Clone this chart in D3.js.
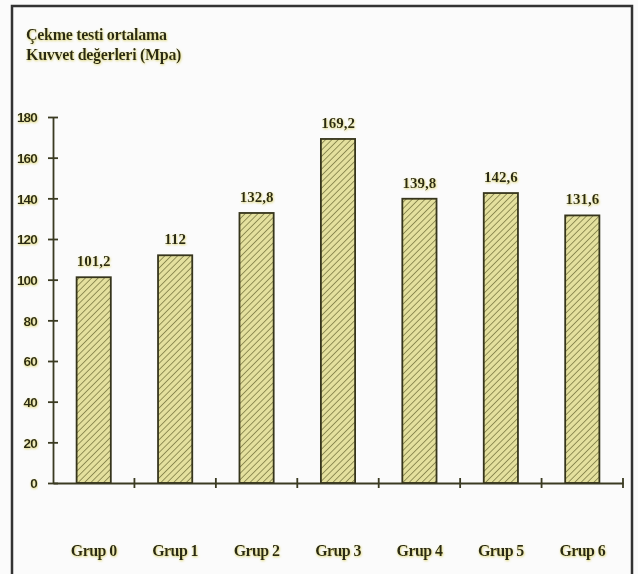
<!DOCTYPE html>
<html><head><meta charset="utf-8">
<script src="https://cdn.jsdelivr.net/npm/d3@7"></script>
<style>body{margin:0;background:#fbfbfb;}svg{display:block;}</style>
</head><body>
<svg id="c" width="638" height="574"></svg>
<script>
const categories = ["Grup 0","Grup 1","Grup 2","Grup 3","Grup 4","Grup 5","Grup 6"];
const values = [101.2,112,132.8,169.2,139.8,142.6,131.6];
const valueLabels = ["101,2","112","132,8","169,2","139,8","142,6","131,6"];
const yTicks = [0,20,40,60,80,100,120,140,160,180];
const titleLines = ["Çekme testi ortalama","Kuvvet değerleri (Mpa)"];

const svg = d3.select("#c");
const defs = svg.append("defs");
const pat = defs.append("pattern").attr("id","hatch").attr("patternUnits","userSpaceOnUse")
  .attr("width",4.5).attr("height",4.5).attr("patternTransform","rotate(45)");
pat.append("rect").attr("width",4.5).attr("height",4.5).attr("fill","#e4e09e");
pat.append("line").attr("x1",0).attr("y1",0).attr("x2",0).attr("y2",4.5)
  .attr("stroke","#8a8850").attr("stroke-width",1.8);
const f = defs.append("filter").attr("id","glow").attr("x","-10%").attr("y","-20%").attr("width","120%").attr("height","140%");
f.append("feDropShadow").attr("dx",0.5).attr("dy",1).attr("stdDeviation",0.8).attr("flood-color","#d8d060").attr("flood-opacity",0.9);

// frame
svg.append("rect").attr("x",12).attr("y",6).attr("width",620).attr("height",600)
  .attr("fill","none").attr("stroke","#333").attr("stroke-width",2.5);

const x = d3.scaleBand().domain(categories).range([53,623]).paddingInner(0.58).paddingOuter(0.29);
const y = d3.scaleLinear().domain([0,180]).range([483,117]);

// title
svg.append("g").selectAll("text").data(titleLines).join("text")
  .attr("x",26).attr("y",(d,i)=>40+i*20)
  .attr("font-family","Liberation Serif").attr("font-weight","bold").attr("font-size",16)
  .attr("letter-spacing","-0.3")
  .attr("fill","#2b2a14").attr("filter","url(#glow)").text(d=>d);

// bars
svg.append("g").selectAll("rect").data(values).join("rect")
  .attr("x",(d,i)=>x(categories[i])).attr("width",x.bandwidth())
  .attr("y",d=>y(d)).attr("height",d=>y(0)-y(d))
  .attr("fill","url(#hatch)").attr("stroke","#36351c").attr("stroke-width",1.8);

// value labels
svg.append("g").selectAll("text").data(values).join("text")
  .attr("x",(d,i)=>x(categories[i])+x.bandwidth()/2).attr("y",d=>y(d)-11)
  .attr("text-anchor","middle").attr("font-family","Liberation Serif").attr("font-weight","bold")
  .attr("font-size",15).attr("fill","#2b2a14").attr("filter","url(#glow)")
  .text((d,i)=>valueLabels[i]);

// y axis
const yAxis = d3.axisLeft(y).tickValues(yTicks).tickSize(0).tickPadding(16);
const gy = svg.append("g").attr("transform","translate(53,0)").call(yAxis);
gy.select(".domain").attr("stroke","#3a3a22").attr("stroke-width",1.8);
gy.selectAll(".tick line").attr("x1",-5).attr("x2",5).attr("stroke","#3a3a22").attr("stroke-width",1.8);
gy.selectAll(".tick text").attr("font-family","Liberation Sans").attr("font-weight","bold")
  .attr("font-size",13.5).attr("letter-spacing","-0.8").attr("fill","#2b2a14").attr("filter","url(#glow)").attr("dy","0.36em");

// x axis
const step = x.step();
const xAxis = d3.axisBottom(x).tickSize(0).tickPadding(62);
const gx = svg.append("g").attr("transform",`translate(0,${y(0)})`).call(xAxis);
gx.select(".domain").attr("stroke","#3a3a22").attr("stroke-width",1.8);
gx.selectAll(".tick text").attr("font-family","Liberation Serif").attr("font-weight","bold")
  .attr("font-size",16).attr("fill","#2b2a14").attr("filter","url(#glow)").attr("letter-spacing","-0.6");
gx.selectAll(".tick line").remove();
gx.selectAll(".sep").data(categories).join("line").attr("class","sep")
  .attr("x1",d=>x(d)-x.step()*x.paddingOuter()+step).attr("x2",d=>x(d)-x.step()*x.paddingOuter()+step)
  .attr("y1",-5).attr("y2",5).attr("stroke","#3a3a22").attr("stroke-width",1.8);
</script>
</body></html>
